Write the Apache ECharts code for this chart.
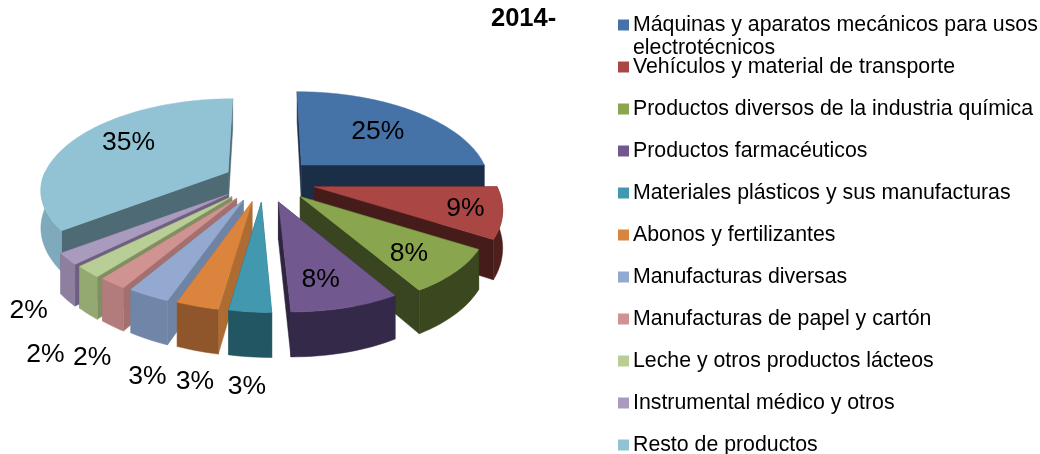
<!DOCTYPE html>
<html><head><meta charset="utf-8">
<style>html,body{margin:0;padding:0;background:#fff}#c{width:1040px;height:454px}</style>
<script src="https://cdn.jsdelivr.net/npm/echarts@6/dist/echarts.min.js"></script>
</head><body><div id="c"></div>
<script>
const categories = [
  'Máquinas y aparatos mecánicos para usos\nelectrotécnicos',
  'Vehículos y material de transporte',
  'Productos diversos de la industria química',
  'Productos farmacéuticos',
  'Materiales plásticos y sus manufacturas',
  'Abonos y fertilizantes',
  'Manufacturas diversas',
  'Manufacturas de papel y cartón',
  'Leche y otros productos lácteos',
  'Instrumental médico y otros',
  'Resto de productos'
];
const values = [25, 9, 8, 8, 3, 3, 3, 2, 2, 2, 35];
const titleText = '2014-';

// styling
const topColors = ['#4572A7','#AA4643','#89A54E','#71588F','#4198AF','#DB843D','#93A9CF','#D19392','#B9CD96','#A99BBD','#92C3D5'];
const radialColors = ['#1A2E47','#451C1A','#384520','#2F2540','#235663','#AE6C32','#6F84A4','#A46F6F','#7E8F60','#6E5E80','#4E6A74'];
const outerColors = ['#1A2E47','#4F1F1C','#3A471F','#35294A','#235663','#8F562B','#7086A8','#B27C7C','#95A873','#8E7F9F','#7FAABB'];
const drawOrder = [1, 3, 4, 5, 11, 10, 9, 8, 7, 6, 2];
const explodeFactor = [1, 1, 1, 1, 1, 1, 1, 1, 1, 1, .85];
const labelReachX = [.70,.80,.68,.54,1.15,1.04,1.01,1.16,1.29,1.24,.68];
const labelReachY = [.64,.78,.73,.72,1.67,1.70,1.83,1.85,2.08,1.77,.87];

const cx = 266, cy = 180.6, explodeX = 50, explodeY = 22;
const R = 183, Ry = 88, persp = .2, depth = 36, skew = .12, lean = 11;

const total = values.reduce((a, b) => a + b, 0);
const starts = [];
values.reduce((acc, v, i) => { starts[i] = acc; return acc + v; }, 0);
const rad = d => d * Math.PI / 180;
const dirX = d => Math.sin(rad(d));
const dirY = d => -Math.cos(rad(d));
const persScale = y => 1 / (1 - persp * y);

function apexOf(mid, f) {
  return [cx + explodeX * f * dirX(mid), cy + explodeY * f * dirY(mid)];
}
function rimPoint(apex, deg, rx, ry) {
  const X = dirX(deg), Y = dirY(deg), s = persScale(Y), fwd = Math.max(Y, 0);
  return [
    apex[0] + X * R * s * (rx === undefined ? 1 : rx) + (apex[0] - cx) * Y * skew + lean * fwd * fwd,
    apex[1] + Y * Ry * s * (ry === undefined ? 1 : ry)
  ];
}
function drop(p, deg) { return [p[0], p[1] + depth * persScale(dirY(deg))]; }

function sliceRenderer(i) {
  return function (params, api) {
    const v = api.value(0);
    const a0 = starts[i] / total * 360, a1 = a0 + v / total * 360, mid = (a0 + a1) / 2;
    const apex = apexOf(mid, explodeFactor[i]);
    const arc = [];
    for (let d = a0; d < a1; d += 1.5) arc.push(rimPoint(apex, d));
    arc.push(rimPoint(apex, a1));
    const apexLow = [apex[0], apex[1] + depth * persScale(dirY(mid) * .27)];
    const children = [];
    const poly = (pts, color, z) => children.push({
      type: 'polygon', shape: { points: pts }, z2: z,
      style: { fill: color, stroke: color, lineWidth: .5 }
    });
    [a0, a1].forEach(d => {
      const p = rimPoint(apex, d);
      poly([apex, p, drop(p, d), apexLow], radialColors[i], 1);
    });
    const f0 = Math.max(a0, 90), f1 = Math.min(a1, 270);
    if (f1 > f0) {
      const upper = [], lower = [];
      for (let d = f0; d < f1; d += 1.5) { const p = rimPoint(apex, d); upper.push(p); lower.push(drop(p, d)); }
      const pe = rimPoint(apex, f1); upper.push(pe); lower.push(drop(pe, f1));
      poly(upper.concat(lower.reverse()), outerColors[i], 2);
    }
    poly([apex].concat(arc), topColors[i], 3);
    const lp = rimPoint(apex, mid, labelReachX[i], labelReachY[i]);
    children.push({
      type: 'text', z2: 4,
      style: { x: lp[0], y: lp[1] + 2, text: v + '%', fill: '#000',
        font: '26.5px "Liberation Sans", Arial, sans-serif', align: 'center', verticalAlign: 'middle' }
    });
    return { type: 'group', children };
  };
}

const series = categories.map((name, i) => ({
  type: 'custom', name, coordinateSystem: 'none', silent: true, z: 2 + drawOrder[i],
  itemStyle: { color: topColors[i] }, animation: false,
  data: [[values[i]]], renderItem: sliceRenderer(i)
}));

const chart = echarts.init(document.getElementById('c'), null, { renderer: 'canvas' });
chart.setOption({
  backgroundColor: '#fff', animation: false,
  title: { text: titleText, left: 491, top: 6, padding: 0,
    textStyle: { fontFamily: '"Liberation Sans", Arial, sans-serif', fontSize: 25.5, fontWeight: 'bold', color: '#000' } },
  legend: {
    orient: 'vertical', left: 618, top: 14.5, height: 700, padding: 0, icon: 'rect',
    itemWidth: 11, itemHeight: 11, itemGap: 21, selectedMode: false,
    data: categories,
    formatter: n => n.split('\n')[0],
    textStyle: { fontFamily: '"Liberation Sans", Arial, sans-serif', fontSize: 21.3, color: '#000', padding: [0,0,0,-1], lineHeight: 20 }
  },
  graphic: [{ type: 'text', left: 633, top: 38, silent: true,
    style: { text: categories[0].split('\n')[1], fill: '#000', font: '21.3px "Liberation Sans", Arial, sans-serif' } }],
  series
});
</script></body></html>
